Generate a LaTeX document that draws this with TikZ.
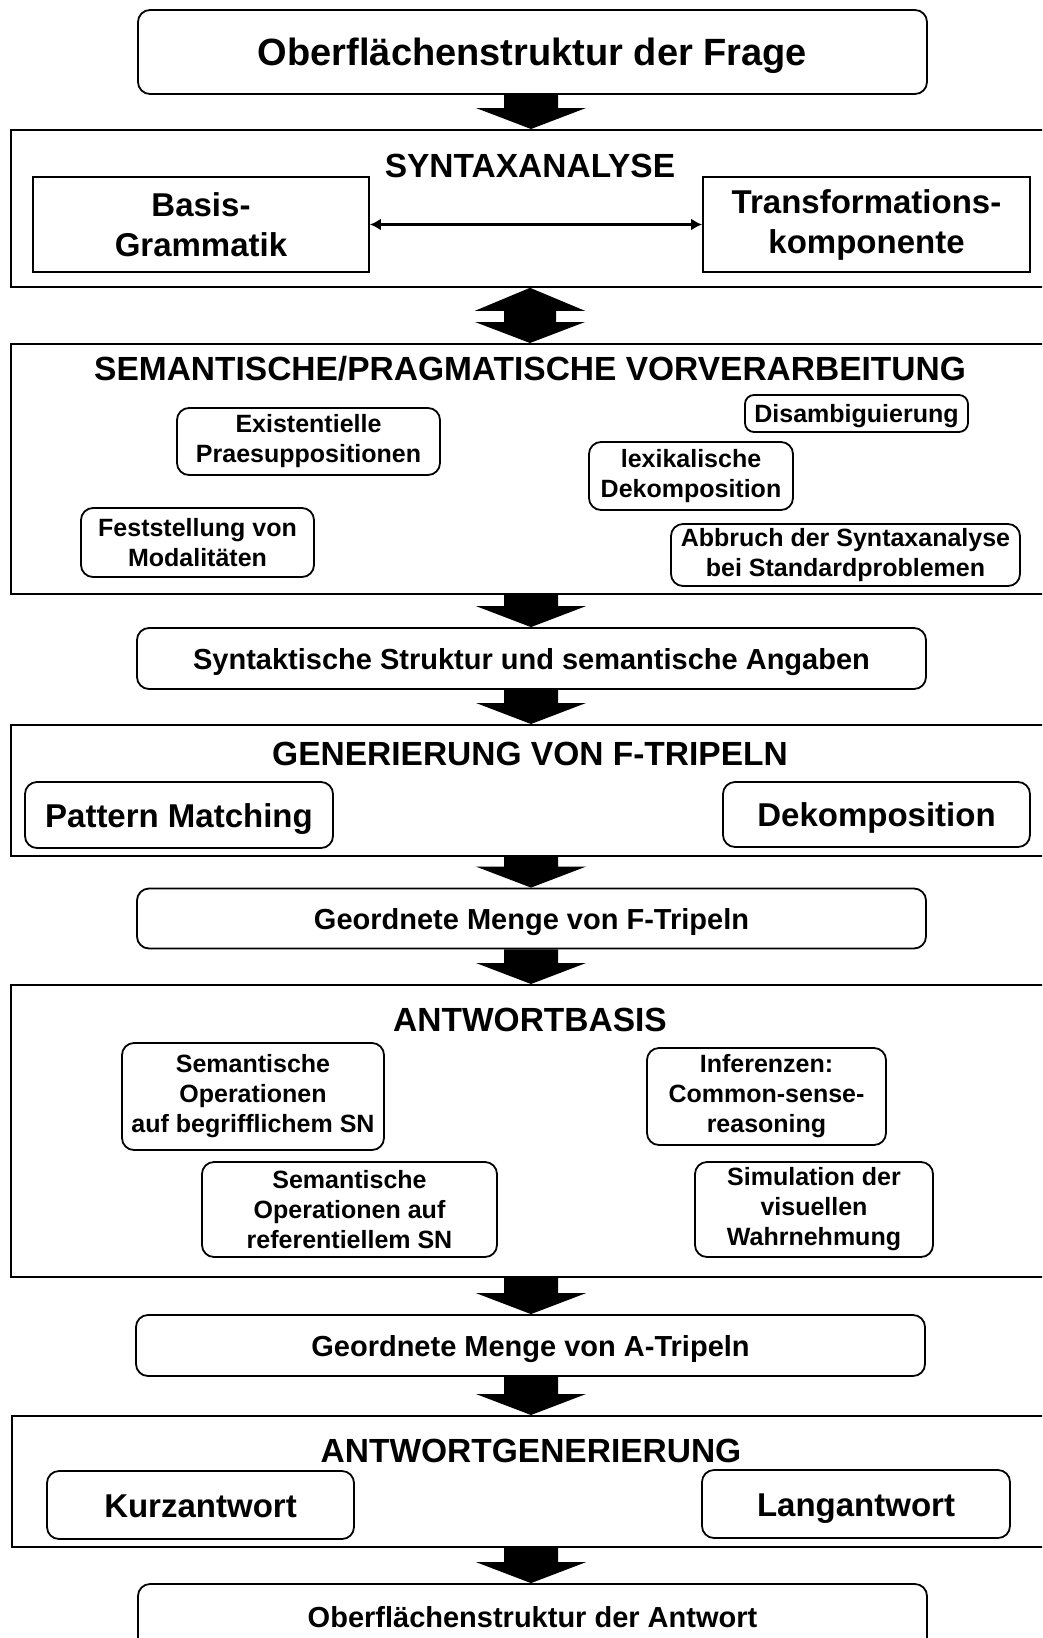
\documentclass[tikz,border=0pt]{standalone}
\usepackage{fontspec}
\setmainfont{Liberation Sans}
\usetikzlibrary{calc,arrows.meta}
\newcommand{\blockarrow}[2]{%
  \fill let \p1=(#1.south), \p2=(#2.north) in
  (504pt,\y1) -- (558pt,\y1) -- (558pt,\y2+21pt) -- (586pt,\y2+21pt) --
  (531pt,\y2) -- (476pt,\y2+21pt) -- (504pt,\y2+21pt) -- cycle;}
\newcommand{\dblockarrow}[2]{%
  \fill let \p1=(#1.south), \p2=(#2.north) in
  (530pt,\y1) -- (585pt,\y1-23pt) -- (556pt,\y1-23pt) -- (556pt,\y2+21pt) --
  (585pt,\y2+21pt) -- (530pt,\y2) -- (475pt,\y2+21pt) -- (504pt,\y2+21pt) --
  (504pt,\y1-23pt) -- (475pt,\y1-23pt) -- cycle;}
\begin{document}
\begin{tikzpicture}[x=1pt,y=-1pt,
  frame/.style={draw, line width=1.8pt, anchor=north west, inner sep=0pt, minimum width=1060pt},
  rbox/.style={draw, line width=1.8pt, rounded corners=12pt, inner sep=0pt, align=center},
  sbox/.style={draw, line width=1.8pt, inner sep=0pt, align=center},
  oneline/.style={text depth=0pt, text height=#1},
  multismall/.style={execute at begin node={\rule{0pt}{24pt}}},
  multilab/.style={execute at begin node={\rule{0pt}{28.5pt}}},
  frametitle/.style={font=\bfseries\fontsize{33.5}{40}\selectfont, inner sep=0pt, text depth=0pt, text height=24pt},
  fbig/.style={font=\bfseries\fontsize{38}{46}\selectfont},
  fmid/.style={font=\bfseries\fontsize{29}{35}\selectfont},
  flab/.style={font=\bfseries\fontsize{33}{40}\selectfont},
  fsmall/.style={font=\bfseries\fontsize{25}{30}\selectfont},
]
\useasboundingbox (0,0) rectangle (1042,1638);
\clip (0,0) rectangle (1042,1638);
\fill[white] (0,0) rectangle (1042,1638);

% top
\node[rbox, fbig, oneline=27pt, minimum width=789pt, minimum height=84pt] (q) at (532.5,52) {Oberflächenstruktur der Frage};

% syntax
\node[frame, minimum height=157pt] (syn) at (10,129) {};
\node[frametitle] (syntitle) at (530,165) {SYNTAXANALYSE};
\node[sbox, flab, multilab, minimum width=336pt, minimum height=95pt] (basis) at (201,224.5) {Basis-\\Grammatik};
\node[sbox, flab, multilab, minimum width=327pt, minimum height=95pt] (trans) at (866.5,224.5) {Transformations-\\komponente};
\draw[line width=2.5pt, {Latex[length=11pt,width=12pt]}-{Latex[length=11pt,width=12pt]}] (basis.east) -- (trans.west);

% semantics
\node[frame, minimum height=250pt] (sem) at (10,343) {};
\node[frametitle] (semtitle) at (530,368.5) {SEMANTISCHE/PRAGMATISCHE VORVERARBEITUNG};
\node[rbox, fsmall, multismall, minimum width=263pt, minimum height=67pt] (exist) at (308.5,441.5) {Existentielle\\Praesuppositionen};
\node[rbox, fsmall, oneline=18pt, minimum width=223pt, minimum height=37pt, rounded corners=9pt] (disamb) at (856.5,413.5) {Disambiguierung};
\node[rbox, fsmall, multismall, minimum width=204pt, minimum height=68pt] (lexik) at (691,476) {lexikalische\\Dekomposition};
\node[rbox, fsmall, multismall, minimum width=233pt, minimum height=69pt] (modal) at (197.5,542.5) {Feststellung von\\Modalitäten};
\node[rbox, fsmall, multismall, minimum width=349pt, minimum height=62pt] (abbruch) at (845.5,555) {Abbruch der Syntaxanalyse\\bei Standardproblemen};

\node[rbox, fmid, oneline=21pt, minimum width=789pt, minimum height=61pt] (synsem) at (531.5,658.5) {Syntaktische Struktur und semantische Angaben};

% generation F
\node[frame, minimum height=131pt] (gen) at (10,724) {};
\node[frametitle] (gentitle) at (530,753) {GENERIERUNG VON F-TRIPELN};
\node[rbox, flab, oneline=24pt, minimum width=308pt, minimum height=66pt] (pattern) at (179,815) {Pattern Matching};
\node[rbox, flab, oneline=24pt, minimum width=307pt, minimum height=65pt] (dekomp) at (876.5,814.5) {Dekomposition};

\node[rbox, fmid, oneline=21pt, minimum width=789pt, minimum height=60pt] (ftrip) at (531.5,918.5) {Geordnete Menge von F-Tripeln};

% answer basis
\node[frame, minimum height=292pt] (ab) at (10,984) {};
\node[frametitle] (abtitle) at (530,1019) {ANTWORTBASIS};
\node[rbox, fsmall, multismall, minimum width=262pt, minimum height=107pt] (opbeg) at (253,1096.5) {Semantische\\Operationen\\auf begrifflichem SN};
\node[rbox, fsmall, multismall, minimum width=295pt, minimum height=95pt] (opref) at (349.5,1209.5) {Semantische\\Operationen auf\\referentiellem SN};
\node[rbox, fsmall, multismall, minimum width=239pt, minimum height=97pt] (infer) at (766.5,1096.5) {Inferenzen:\\Common-sense-\\reasoning};
\node[rbox, fsmall, multismall, minimum width=238pt, minimum height=95pt] (simul) at (814,1209.5) {Simulation der\\visuellen\\Wahrnehmung};

\node[rbox, fmid, oneline=21pt, minimum width=789pt, minimum height=61pt] (atrip) at (530.5,1345.5) {Geordnete Menge von A-Tripeln};

% answer generation
\node[frame, minimum height=131pt] (ag) at (11,1415) {};
\node[frametitle] (agtitle) at (531,1450) {ANTWORTGENERIERUNG};
\node[rbox, flab, oneline=24pt, minimum width=307pt, minimum height=68pt] (kurz) at (200.5,1505) {Kurzantwort};
\node[rbox, flab, oneline=24pt, minimum width=308pt, minimum height=68pt] (lang) at (856,1504) {Langantwort};

\node[rbox, fmid, oneline=21pt, minimum width=789pt, minimum height=66pt] (out) at (532.5,1617) {Oberflächenstruktur der Antwort};

% block arrows
\blockarrow{q}{syn}
\dblockarrow{syn}{sem}
\blockarrow{sem}{synsem}
\blockarrow{synsem}{gen}
\blockarrow{gen}{ftrip}
\blockarrow{ftrip}{ab}
\blockarrow{ab}{atrip}
\blockarrow{atrip}{ag}
\blockarrow{ag}{out}
\end{tikzpicture}
\end{document}
